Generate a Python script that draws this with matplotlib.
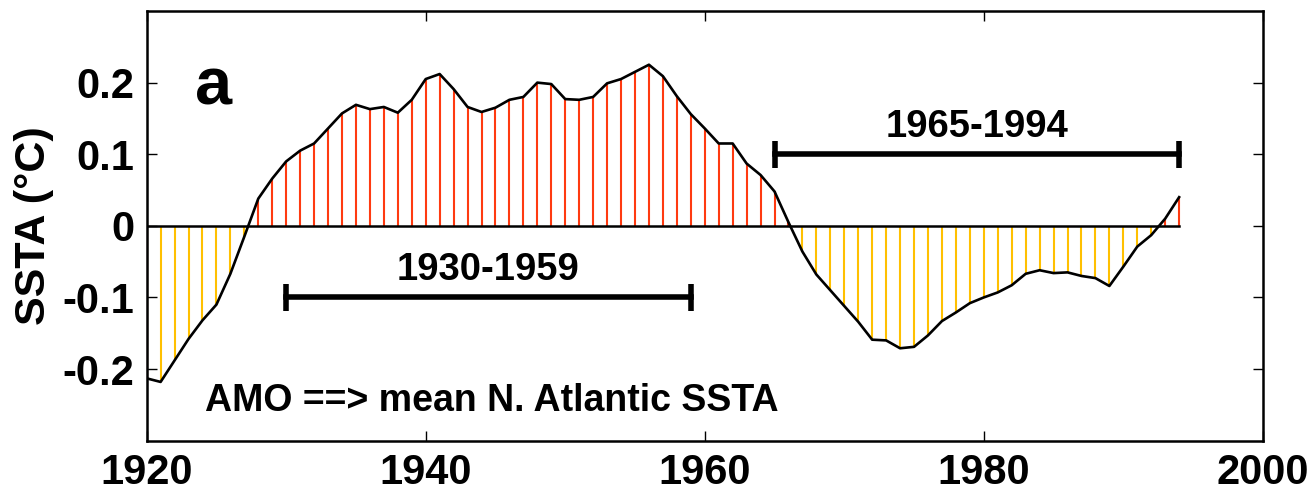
import numpy as np
import matplotlib
matplotlib.use('Agg')
import matplotlib.pyplot as plt

# ------------------- data -------------------
years = np.arange(1920, 1995)
ssta = [
    -0.213, -0.218, -0.188, -0.158, -0.132, -0.110, -0.067, -0.015, 0.038, 0.066,   # 1920-1929
    0.090, 0.105, 0.115, 0.136, 0.157, 0.169, 0.163, 0.166, 0.158, 0.176,          # 1930-1939
    0.205, 0.212, 0.191, 0.166, 0.159, 0.165, 0.176, 0.180, 0.200, 0.198,          # 1940-1949
    0.177, 0.176, 0.180, 0.199, 0.205, 0.215, 0.225, 0.209, 0.181, 0.156,          # 1950-1959
    0.136, 0.115, 0.115, 0.087, 0.071, 0.048, 0.005, -0.036, -0.068, -0.090,       # 1960-1969
    -0.112, -0.134, -0.159, -0.160, -0.171, -0.169, -0.153, -0.133, -0.121, -0.108,  # 1970-1979
    -0.100, -0.093, -0.083, -0.067, -0.062, -0.066, -0.065, -0.070, -0.073, -0.084,  # 1980-1989
    -0.057, -0.029, -0.013, 0.010, 0.040,                                          # 1990-1994
]
periods = [(1930, 1959), (1965, 1994)]
period_levels = [-0.1, 0.1]
period_labels = ['1930-1959', '1965-1994']
xticks = [1920, 1940, 1960, 1980, 2000]
yticks = [-0.2, -0.1, 0, 0.1, 0.2]
ytick_labels = ['-0.2', '-0.1', '0', '0.1', '0.2']

plt.rcParams['font.family'] = ['Liberation Sans', 'DejaVu Sans']
plt.rcParams['font.weight'] = 'bold'

fig = plt.figure(figsize=(13.13, 4.94), dpi=100)
ax = fig.add_axes([0.1117, 0.108, 0.8501, 0.8697])

vals = np.array(ssta)
red = '#FF3A10'
yellow = '#FFC000'

# ------------------- vertical stripes --------------------------
for yr, v in zip(years, vals):
    ax.plot([yr, yr], [0, v], color=red if v > 0 else yellow, lw=1.5,
            solid_capstyle='butt', zorder=2)

ax.plot([years[0], years[-1]], [0, 0], color='black', lw=1.8, zorder=3)
ax.plot(years, vals, color='black', lw=1.9, zorder=4)

# ------------------- period bars -------------------------------
for (a, b), lev, lab in zip(periods, period_levels, period_labels):
    ax.plot([a, b], [lev, lev], color='black', lw=4, zorder=5)
    for e in (a, b):
        ax.plot([e, e], [lev - 0.019, lev + 0.019], color='black', lw=4,
                solid_capstyle='butt', zorder=5)
    ax.text((a + b) / 2, lev + 0.013, lab, ha='center', va='bottom',
            fontsize=27.5, fontweight='bold')

ax.text(1923.5, 0.193, 'a', fontsize=48, fontweight='bold', ha='left', va='center')
ax.text(1924.2, -0.245, 'AMO ==> mean N. Atlantic SSTA', fontsize=27,
        fontweight='bold', ha='left', va='center')

ax.set_xlim(1920, 2000)
ax.set_ylim(-0.3, 0.3)
ax.set_xticks(xticks)
ax.set_yticks(yticks)
ax.set_yticklabels(ytick_labels)
ax.tick_params(direction='in', length=7, width=1, top=True, right=True,
               labelsize=30, pad=9)
for lab in ax.get_xticklabels() + ax.get_yticklabels():
    lab.set_fontweight('bold')
for s in ax.spines.values():
    s.set_linewidth(1.8)
ax.set_ylabel('SSTA (°C)', fontsize=31, fontweight='bold', labelpad=6)

fig.savefig('out.png', dpi=100)
